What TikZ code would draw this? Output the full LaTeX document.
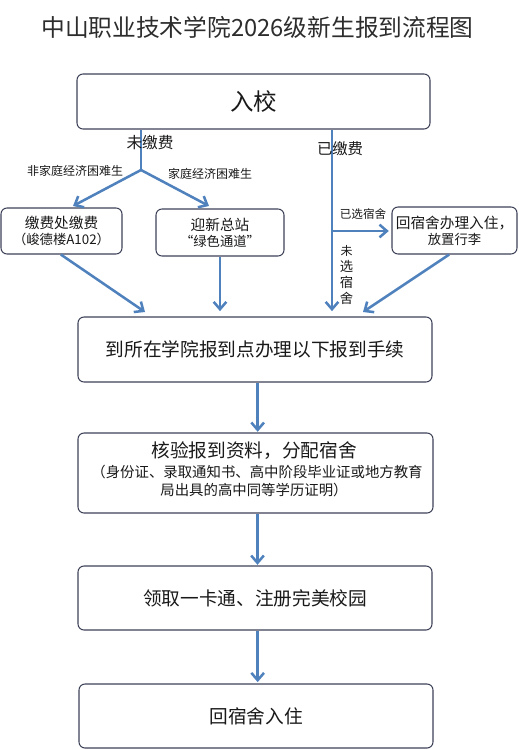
\documentclass[tikz,border=0pt]{standalone}
\usepackage{fontspec}
\setmainfont{Noto Sans CJK SC}
\usetikzlibrary{arrows.meta,calc}
\definecolor{arr}{RGB}{79,129,189}
\definecolor{bord}{RGB}{62,66,88}
\definecolor{txt}{RGB}{25,25,25}
\definecolor{ttl}{RGB}{45,45,45}
\newcommand\setfs[2]{\fontsize{#1pt}{#2pt}\selectfont}
\tikzset{
  box/.style={draw=bord, line width=0.8pt, rounded corners=4.5pt, inner sep=0pt, fill=white, text=txt, align=center},
  lbl/.style={inner sep=0pt, text=txt, align=center},
  flow/.style={draw=arr, line width=1.9pt, -{Straight Barb[length=5.5pt,width=9.5pt]}},
  seg/.style={draw=arr, line width=1.9pt},
}
\begin{document}
\begin{tikzpicture}[x=0.75pt,y=-0.75pt]
\useasboundingbox (0,0) rectangle (518,750);

% title
\node[lbl, text=ttl] (title) at (257.5,27) {\setfs{17.8}{22}中山职业技术学院2026级新生报到流程图};

% boxes
\node[box, minimum width=264.75pt, minimum height=41.25pt] (ruxiao) at (253.5,101.5) {\setfs{17.6}{20}入校};
\node[box, minimum width=90.75pt, minimum height=34.5pt] (jiaofei) at (61.5,231) {\setfs{11}{15}缴费处缴费\\（峻德楼A102）};
\node[box, minimum width=96pt, minimum height=35.25pt] (yingxin) at (220,232.5) {\setfs{11}{15}迎新总站\\“绿色通道”};
\node[box, minimum width=93.75pt, minimum height=35.25pt] (huisushe) at (454.5,230.5) {\setfs{11}{15.5}回宿舍办理入住，\\放置行李};
\node[box, minimum width=265.5pt, minimum height=48.75pt] (daoyuan) at (255,349.5) {\setfs{14}{16}到所在学院报到点办理以下报到手续};
\node[box, minimum width=266.25pt, minimum height=60pt] (hexiao) at (255.5,473) {};
\node[lbl] (hx1) at (254,451) {\setfs{14}{16}核验报到资料，分配宿舍};
\node[lbl] (hx2) at (257,472) {\setfs{10.8}{13}（身份证、录取通知书、高中阶段毕业证或地方教育};
\node[lbl] (hx3) at (254,490) {\setfs{10.8}{13}局出具的高中同等学历证明）};
\node[box, minimum width=265.5pt, minimum height=48pt] (lingqu) at (255,598) {\setfs{14}{16}领取一卡通、注册完美校园};
\node[box, minimum width=265.5pt, minimum height=48pt] (ruzhu) at (256,716) {\setfs{14}{16}回宿舍入住};

% branch coordinates
\coordinate (b1) at (141,170);
\coordinate (b2) at (332,231);
\coordinate (e1) at (73,206);
\coordinate (e2) at (209,206);
\coordinate (e3) at (145,312);
\coordinate (e4) at (363,312);

% connectors
\draw[seg] (ruxiao.south -| b1) -- (b1);
\draw[flow] (b1) -- (e1);
\draw[flow] (b1) -- (e2);
\draw[flow] (ruxiao.south -| b2) -- ([yshift=4pt]b2 |- daoyuan.north);
\draw[flow] (b2) -- ([xshift=-2pt]huisushe.west |- b2);
\draw[flow] ([xshift=-0.5pt]jiaofei.south) -- (e3);
\draw[flow] (yingxin.south) -- ([yshift=4pt]yingxin.south |- daoyuan.north);
\draw[flow] ([xshift=-4pt]huisushe.south) -- (e4);
\draw[flow] ([xshift=2pt]daoyuan.south) -- ([xshift=2pt,yshift=0.5pt]daoyuan.south |- hexiao.north);
\draw[flow] ([xshift=1.5pt]hexiao.south) -- ([xshift=1.5pt,yshift=0.5pt]hexiao.south |- lingqu.north);
\draw[flow] ([xshift=2pt]lingqu.south) -- ([xshift=2pt,yshift=1pt]lingqu.south |- ruzhu.north);

% labels
\node[lbl] (l1) at (150,143) {\setfs{11.75}{14}未缴费};
\node[lbl] (l2) at (75,171) {\setfs{9}{11}非家庭经济困难生};
\node[lbl] (l3) at (210,174) {\setfs{9}{11}家庭经济困难生};
\node[lbl] (l4) at (340,149) {\setfs{11.5}{14}已缴费};
\node[lbl] (l5) at (363,214) {\setfs{8.7}{10}已选宿舍};
\node[lbl] (l6) at (346.5,274.5) {\setfs{9}{9.75}未\\选\\宿\\舍};
\end{tikzpicture}
\end{document}
